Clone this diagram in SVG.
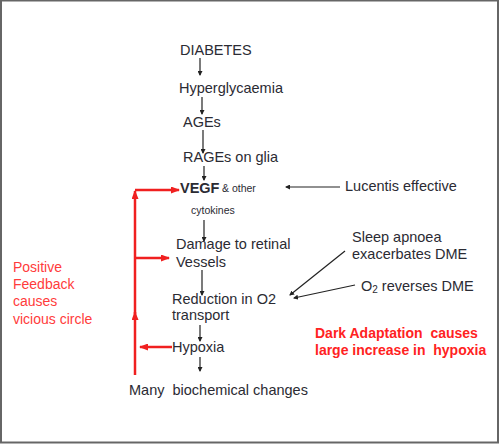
<svg xmlns="http://www.w3.org/2000/svg" width="500" height="444" viewBox="0 0 500 444">
<defs>
<marker id="ah" markerWidth="5" markerHeight="5" refX="4" refY="2.5" orient="auto" markerUnits="userSpaceOnUse"><path d="M0,0 L5,2.5 L0,5 z" fill="#222"/></marker>
<marker id="rh" markerWidth="9" markerHeight="7" refX="8" refY="3.5" orient="auto" markerUnits="userSpaceOnUse"><path d="M0,0 L9,3.5 L0,7 z" fill="#f02020"/></marker>
</defs>
<style>
.t{font-family:"Liberation Sans",Arial,sans-serif;font-size:14.5px;fill:#2b2b33}
.s{font-size:10.5px}
.r{font-family:"Liberation Sans",Arial,sans-serif;font-size:14px;fill:#ff3b3b}
.b{font-weight:bold;fill:#f22}
.k{stroke:#222;stroke-width:1.2;fill:none;marker-end:url(#ah)}
.red{stroke:#f02020;stroke-width:2.5;fill:none}
</style>
<rect x="1" y="0.5" width="497" height="442" fill="#fff" stroke="#666" stroke-width="2"/>
<g id="connectors">
<line class="k" x1="200" y1="58" x2="200" y2="75"/>
<line class="k" x1="202" y1="97" x2="202" y2="114"/>
<line class="k" x1="203" y1="130" x2="203" y2="153"/>
<line class="k" x1="204" y1="166" x2="204" y2="180"/>
<line class="k" x1="204" y1="220" x2="204" y2="241"/>
<line class="k" x1="202" y1="270" x2="202" y2="295"/>
<line class="k" x1="200" y1="325" x2="200" y2="341"/>
<line class="k" x1="200" y1="357" x2="200" y2="371"/>
<line class="k" x1="340" y1="187" x2="286" y2="187"/>
<line class="k" x1="345" y1="251" x2="290" y2="295"/>
<line class="k" x1="355" y1="285" x2="294" y2="298"/>
<line class="red" x1="135" y1="375" x2="135" y2="312" marker-end="url(#rh)"/>
<line class="red" x1="135" y1="314" x2="135" y2="191" marker-end="url(#rh)"/>
<polyline class="red" points="135,190 179,190" marker-end="url(#rh)"/>
<line class="red" x1="135" y1="258" x2="169" y2="258" marker-end="url(#rh)"/>
<line class="red" x1="172" y1="347" x2="140" y2="347" marker-end="url(#rh)"/>
</g>
<g id="diabetes"><text class="t" x="180" y="55">DIABETES</text></g>
<g id="hyperglycaemia"><text class="t" x="179" y="93">Hyperglycaemia</text></g>
<g id="ages"><text class="t" x="183" y="127">AGEs</text></g>
<g id="rages"><text class="t" x="183" y="162">RAGEs on glia</text></g>
<g id="vegf"><text class="t" x="180" y="193" font-weight="bold">VEGF</text><text class="t s" x="222" y="192">&amp; other</text><text class="t s" x="191" y="214">cytokines</text></g>
<g id="damage"><text class="t" x="176" y="249">Damage to retinal</text><text class="t" x="176" y="267">Vessels</text></g>
<g id="reduction"><text class="t" x="172" y="304">Reduction in O2</text><text class="t" x="172" y="320">transport</text></g>
<g id="hypoxia"><text class="t" x="172" y="352">Hypoxia</text></g>
<g id="many"><text class="t" x="129" y="395" xml:space="preserve">Many  biochemical changes</text></g>
<g id="lucentis"><text class="t" x="345" y="191">Lucentis effective</text></g>
<g id="sleep"><text class="t" x="352" y="242">Sleep apnoea</text><text class="t" x="352" y="259">exacerbates DME</text></g>
<g id="o2"><text class="t" x="361" y="291">O<tspan font-size="10" dy="2">2</tspan><tspan dy="-2"> reverses DME</tspan></text></g>
<g id="positive"><text class="r" x="13" y="272">Positive</text><text class="r" x="13" y="289">Feedback</text><text class="r" x="13" y="306">causes</text><text class="r" x="13" y="324">vicious circle</text></g>
<g id="dark"><text class="r b" x="315" y="338" xml:space="preserve">Dark Adaptation  causes</text><text class="r b" x="315" y="355" xml:space="preserve">large increase in  hypoxia</text></g>
</svg>
